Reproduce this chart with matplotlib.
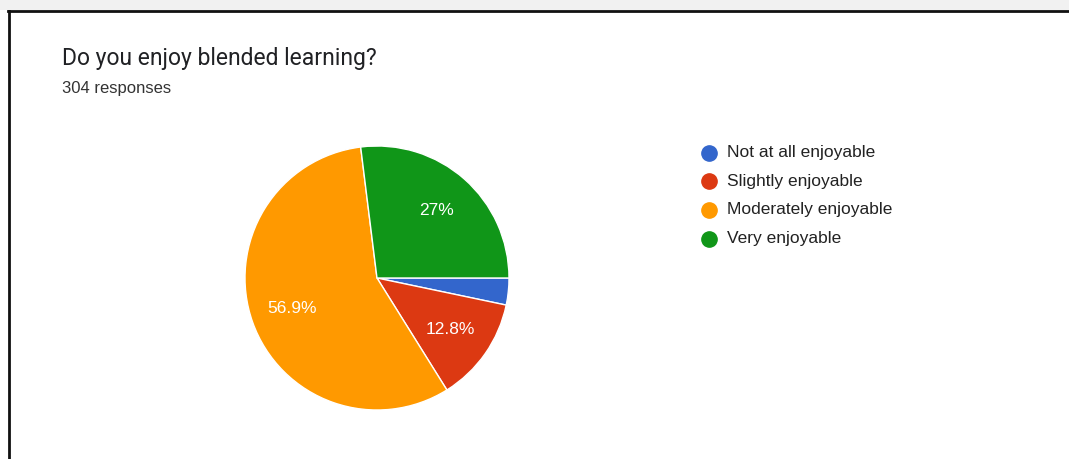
#!/usr/bin/env python3
import matplotlib.pyplot as plt
from matplotlib.lines import Line2D
from matplotlib.patches import Rectangle

# Survey answers (304 responses)
categories = ["Not at all enjoyable", "Slightly enjoyable",
              "Moderately enjoyable", "Very enjoyable"]
counts = [10, 39, 173, 82]
colors = ["#3366cc", "#dc3912", "#ff9900", "#109618"]

title = "Do you enjoy blended learning?"
subtitle = "304 responses"


def pct_label(pct):
    # Small slices get no label; whole numbers drop the decimal
    if pct < 5:
        return ""
    text = f"{pct:.1f}"
    if text.endswith(".0"):
        text = text[:-2]
    return text + "%"


def main():
    W, H = 1069, 459
    fig = plt.figure(figsize=(W / 100, H / 100), dpi=100)
    fig.patch.set_facecolor("white")

    # Frame around the card: grey strip on top, black top and left edges
    fig.patches.append(Rectangle((0, 1 - 10 / H), 1, 10 / H, transform=fig.transFigure,
                                 facecolor="#f1f1f1", edgecolor="none", zorder=0))
    fig.lines.append(Line2D([8 / W, 1], [1 - 11 / H, 1 - 11 / H], transform=fig.transFigure,
                            color="#111111", linewidth=2.0))
    fig.lines.append(Line2D([9 / W, 9 / W], [0, 1 - 11 / H], transform=fig.transFigure,
                            color="#111111", linewidth=2.0))

    fig.text(62 / W, 1 - 58 / H, title, fontsize=16.5, family="Roboto",
             color="#202124", va="center", ha="left")
    fig.text(62 / W, 1 - 88 / H, subtitle, fontsize=12, family="Liberation Sans",
             color="#333333", va="center", ha="left")

    # Pie: centre (377, 278), radius 132 px
    cx, cy, r = 377, 278, 132
    ax = fig.add_axes([(cx - r) / W, (H - cy - r) / H, 2 * r / W, 2 * r / H])
    wedges, texts, autotexts = ax.pie(
        counts, colors=colors, startangle=0, counterclock=False,
        autopct=pct_label, pctdistance=0.68,
        wedgeprops=dict(edgecolor="white", linewidth=1.0),
        textprops=dict(color="white", fontsize=12.5, family="Liberation Sans"))
    ax.set_xlim(-1, 1)
    ax.set_ylim(-1, 1)
    ax.set_aspect("equal")
    ax.axis("off")

    # Legend with round markers
    for i, (name, col) in enumerate(zip(categories, colors)):
        y = 1 - (153 + i * 28.5) / H
        fig.lines.append(Line2D([709 / W], [y], transform=fig.transFigure, marker="o",
                                markersize=11, color=col, linestyle="none"))
        fig.text(727 / W, y, name, fontsize=12.5, family="Liberation Sans",
                 color="#222222", va="center", ha="left")

    fig.savefig("out.png", dpi=100)


if __name__ == "__main__":
    main()
